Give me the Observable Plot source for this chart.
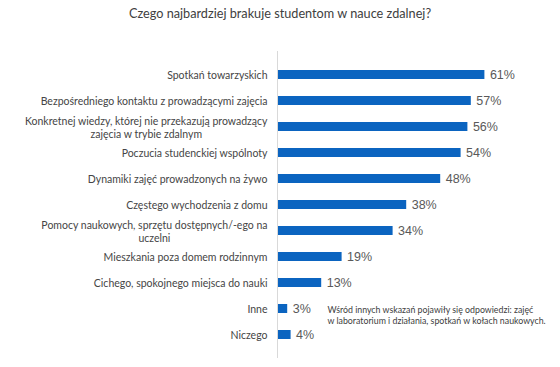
<!DOCTYPE html>
<html><head><meta charset="utf-8">
<script src="https://cdn.jsdelivr.net/npm/d3@7"></script>
<script src="https://cdn.jsdelivr.net/npm/@observablehq/plot@0.6"></script>
<style>
body{margin:0;background:#fff;}
#title{font-family:Lato,sans-serif;font-size:12.7px;color:#404040;text-align:center;height:27px;line-height:27px;width:560px;}
#chart svg{display:block;}
</style></head><body>
<div id="title">Czego najbardziej brakuje studentom w nauce zdalnej?</div>
<div id="chart"></div>
<script>
const categories = [
  "Spotkań towarzyskich",
  "Bezpośredniego kontaktu z prowadzącymi zajęcia",
  "Konkretnej wiedzy, której nie przekazują prowadzący\nzajęcia w trybie zdalnym",
  "Poczucia studenckiej wspólnoty",
  "Dynamiki zajęć prowadzonych na żywo",
  "Częstego wychodzenia z domu",
  "Pomocy naukowych, sprzętu dostępnych/-ego na\nuczelni",
  "Mieszkania poza domem rodzinnym",
  "Cichego, spokojnego miejsca do nauki",
  "Inne",
  "Niczego"
];
const values = [61, 57, 56, 54, 48, 38, 34, 19, 13, 3, 4];
const noteCategory = "Inne";
const noteText = "Wśród innych wskazań pojawiły się odpowiedzi: zajęć\nw laboratorium i działania, spotkań w kołach naukowych.";

const data = categories.map((c, i) => ({category: c, value: values[i]}));

const chart = Plot.plot({
  width: 560, height: 340,
  marginTop: 24, marginBottom: 9, marginLeft: 277, marginRight: 11,
  style: {fontFamily: "Lato, sans-serif", background: "#fff"},
  x: {domain: [0, 80], axis: null},
  y: {domain: categories, padding: 0.64, label: null, axis: null},
  marks: [
    Plot.barX(data, {x: "value", y: "category", fill: "#0B64C0"}),
    Plot.ruleX([0], {stroke: "#d9d9d9"}),
    Plot.text(data, {x: "value", y: "category", text: d => d.value + "%", textAnchor: "start", dx: 5,
      fontFamily: "'Liberation Sans', Arial, sans-serif", fontSize: 12.5, fill: "#595959"}),
    Plot.axisY({tickSize: 0, tickPadding: 10, fontSize: 10.5, fill: "#454545", lineAnchor: "middle", lineHeight: 1.25}),
    Plot.text([{category: noteCategory, text: noteText}], {y: "category", text: "text", frameAnchor: "left",
      dx: 50, dy: 6, textAnchor: "start", lineAnchor: "middle", fontSize: 8.8, lineHeight: 1.25, fill: "#404040"})
  ]
});
document.getElementById("chart").appendChild(chart);

// center multi-line tick labels within their block (labels stay right-aligned as a block)
d3.select(chart).selectAll("g[aria-label='y-axis tick label'] text").each(function() {
  const spans = d3.select(this).selectAll("tspan");
  if (spans.size() < 2) return;
  let w = 0;
  spans.each(function() { w = Math.max(w, this.getComputedTextLength()); });
  d3.select(this).attr("text-anchor", "middle");
  spans.attr("x", -w / 2);
});
</script>
</body></html>
